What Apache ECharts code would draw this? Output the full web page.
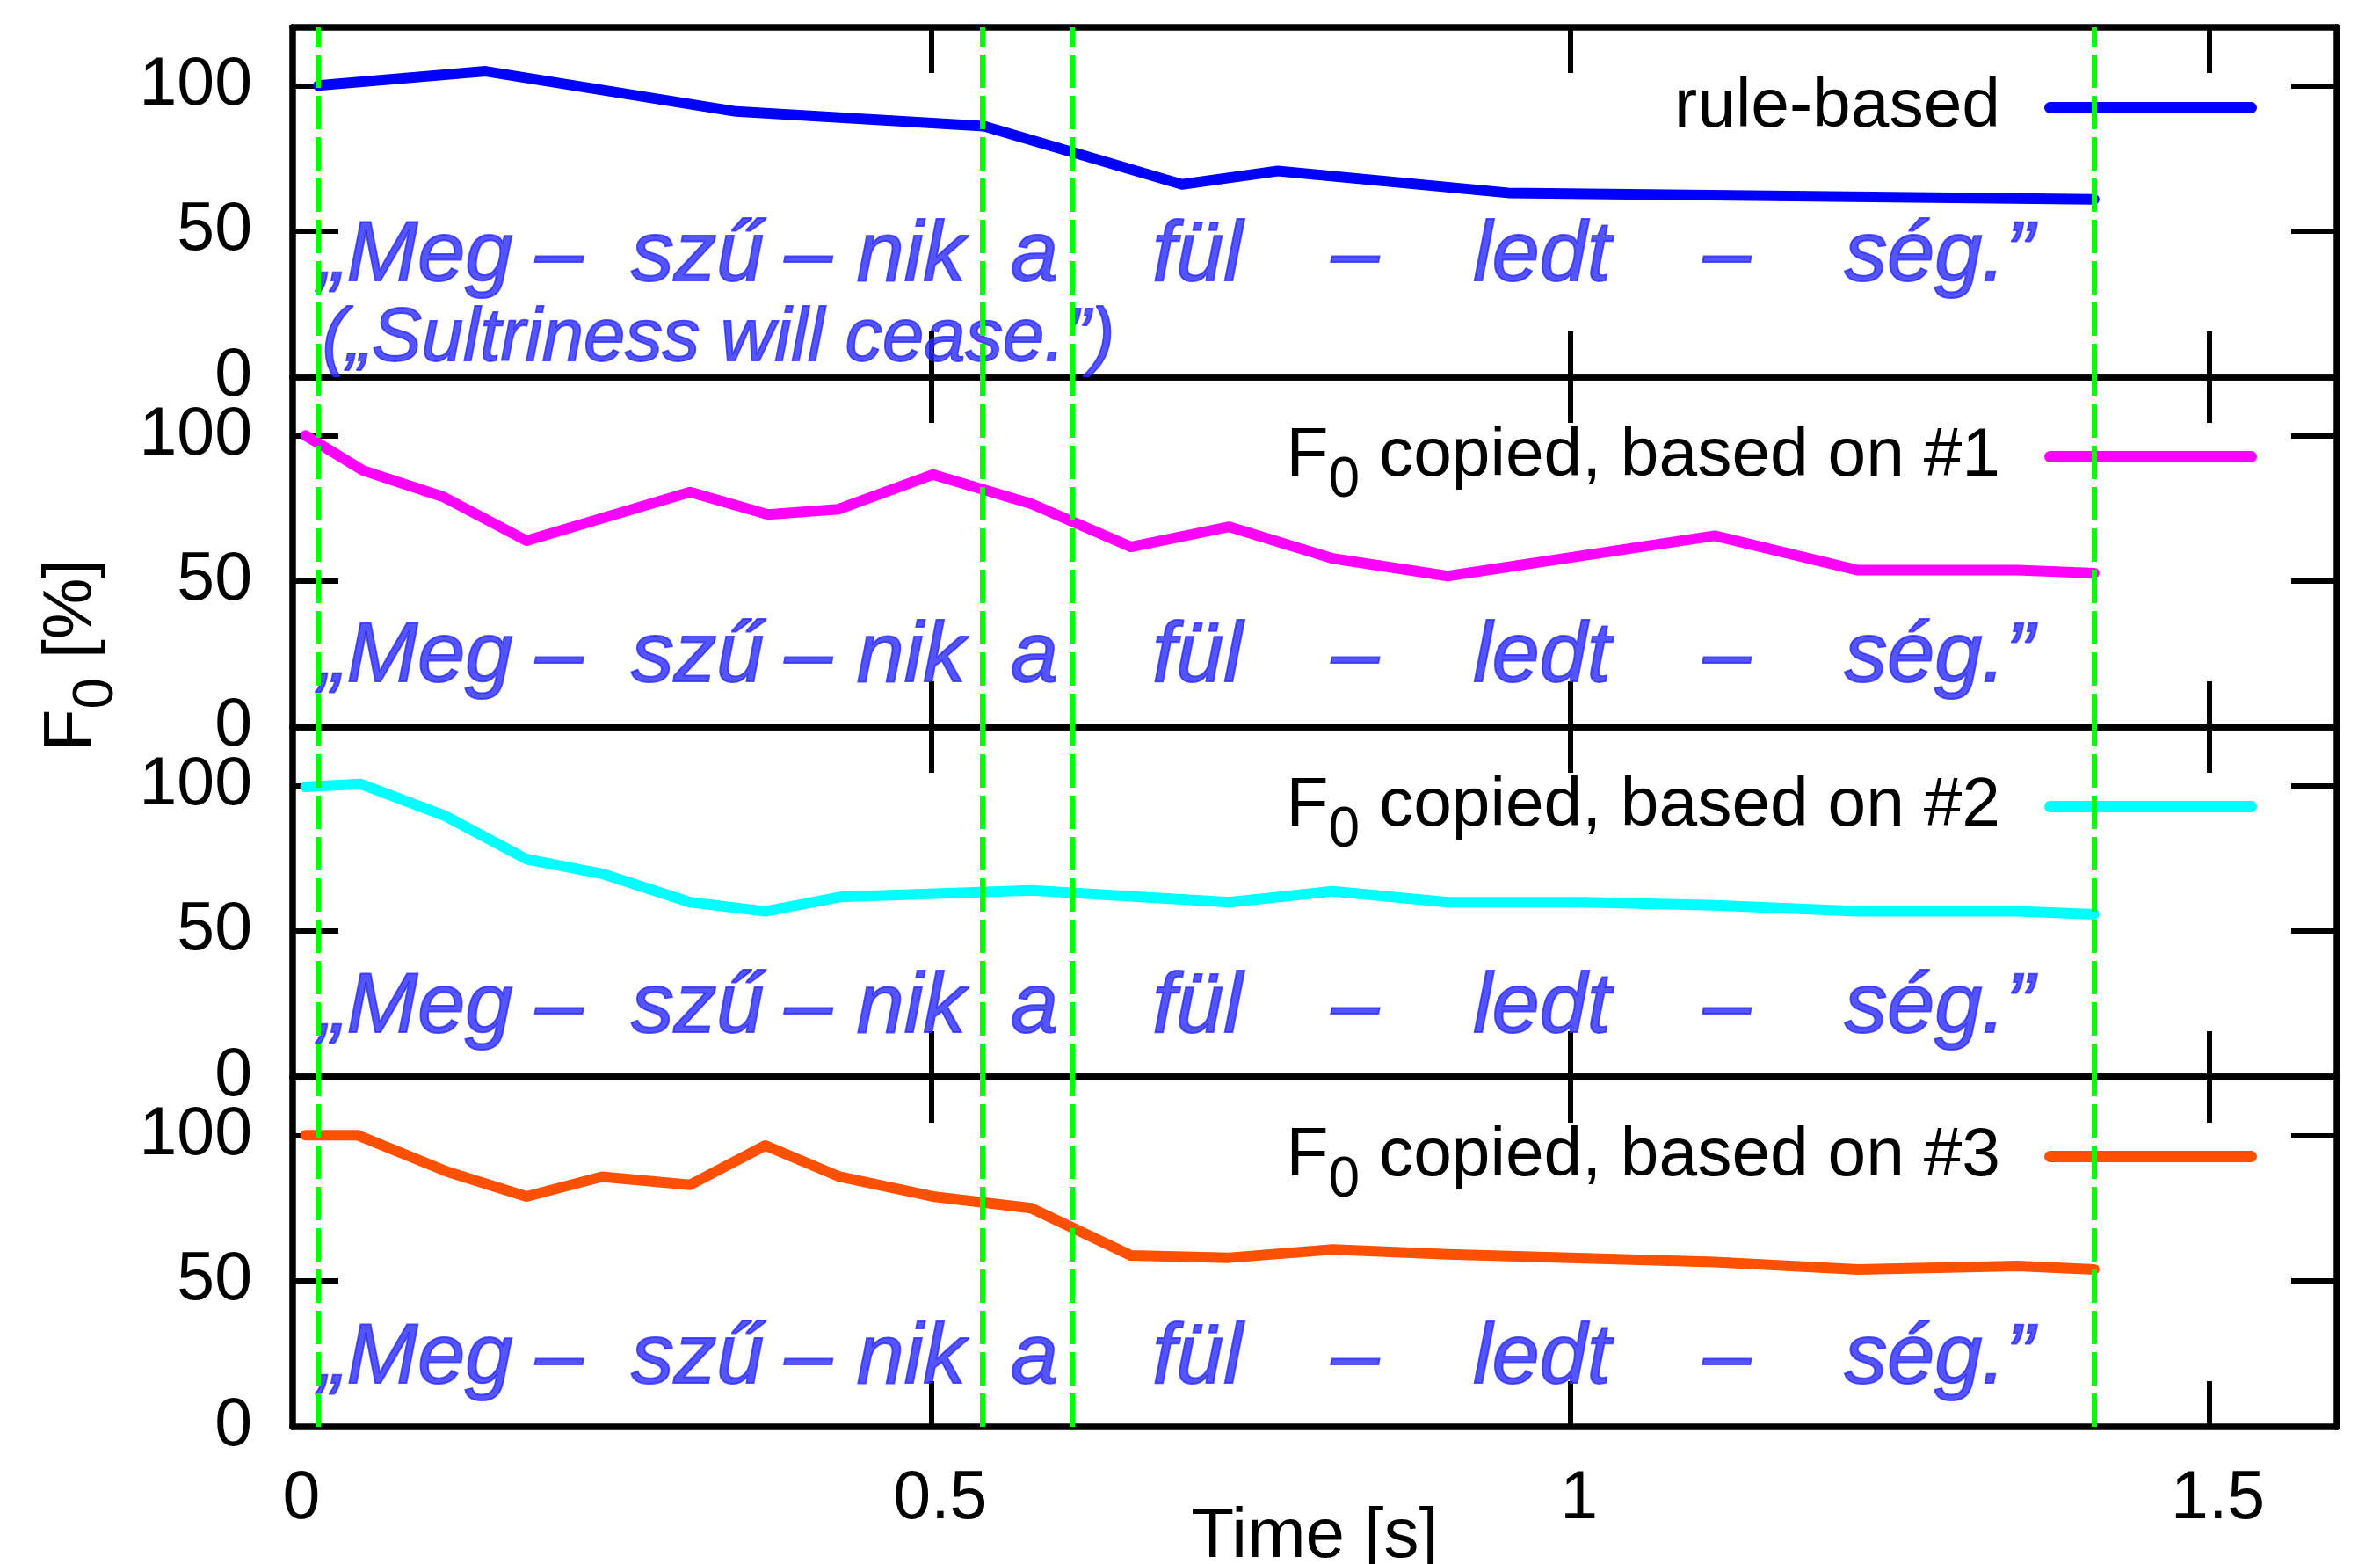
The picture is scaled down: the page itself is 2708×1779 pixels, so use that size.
<!DOCTYPE html>
<html><head><meta charset="utf-8">
<script src="https://cdn.jsdelivr.net/npm/echarts@6/dist/echarts.min.js"></script>
<style>html,body{margin:0;padding:0;background:#fff}#c{width:2708px;height:1779px}</style>
</head><body><div id="c"></div><script>
// ---- data ----
const ruleT = [0.02, 0.151, 0.347, 0.541, 0.696, 0.771, 0.951, 1.41];
const ruleV = [100, 104.9, 91.1, 86.1, 66.1, 70.7, 63.2, 61.0];
const cop1T = [0.01, 0.055, 0.118, 0.183, 0.311, 0.372, 0.427, 0.501, 0.578, 0.656, 0.733, 0.814, 0.904, 1.113, 1.225, 1.35, 1.41];
const cop1V = [100, 88.0, 78.9, 63.9, 80.6, 72.9, 74.7, 86.6, 76.6, 61.8, 68.7, 57.8, 51.8, 65.6, 53.8, 53.8, 52.8];
const cop2T = [0.01, 0.053, 0.119, 0.183, 0.242, 0.311, 0.370, 0.428, 0.578, 0.733, 0.814, 0.904, 1.01, 1.113, 1.225, 1.35, 1.41];
const cop2V = [99.5, 100.5, 89.6, 74.7, 69.7, 59.9, 56.8, 61.7, 64.0, 59.9, 63.7, 59.9, 59.9, 58.9, 56.8, 56.8, 55.8];
const cop3T = [0.01, 0.051, 0.121, 0.183, 0.242, 0.311, 0.370, 0.428, 0.501, 0.578, 0.656, 0.733, 0.814, 0.904, 1.113, 1.225, 1.35, 1.41];
const cop3V = [100, 100, 87.5, 79, 85.8, 83, 96.5, 85.8, 79, 75, 58.8, 58, 60.8, 59.2, 56.5, 54, 55.2, 54];
const seriesNames = ['rule-based', 'F0 copied, based on #1', 'F0 copied, based on #2', 'F0 copied, based on #3'];
const seriesColors = ['#0000ff', '#ff00ff', '#00ffff', '#ff5000'];
const guideT = [0.02, 0.541, 0.615, 1.41];
const syllables = ['\u201eMeg', '\u2013', 'sz\u0171', '\u2013', 'nik', 'a', 'f\u00fcl', '\u2013', 'ledt', '\u2013', 's\u00e9g.\u201d'];
const syllableT = [0.020, 0.19, 0.265, 0.385, 0.4415, 0.562, 0.673, 0.813, 0.924, 1.104, 1.2146];
const translation = '(\u201eSultriness will cease.\u201d)';
const translationT = 0.023;
const xTicks = [0, 0.5, 1, 1.5];
const yTicks = [0, 50, 100];

// ---- layout ----
const FONT = 'Liberation Sans';
const W = 2708, H = 1779;
const gridLeft = 333, gridWidth = 2326, panelH = 398;
const panelTop = [31, 429, 827, 1225];
const textY = [41.2, 23.8, 23.6, 23.2];
const translationY = 13.0;
const legendCenter = [122, 519, 917, 1315];
const ANN = '#2a2aff';

const tsv = [[ruleT, ruleV], [cop1T, cop1V], [cop2T, cop2V], [cop3T, cop3V]];

const chart = echarts.init(document.getElementById('c'), null, {renderer: 'canvas', width: W, height: H});

const grid = [], xAxis = [], yAxis = [], series = [], legend = [];
const axLine = {show: true, onZero: false, lineStyle: {color: '#000', width: 7.5}};
const axTick = {show: true, inside: true, length: 52, lineStyle: {color: '#000', width: 6}};
const rich = {
  m: {fontSize: 78.5, lineHeight: 120, fontFamily: FONT, color: '#000'},
  s: {fontSize: 64, lineHeight: 64, fontFamily: FONT, color: '#000', verticalAlign: 'bottom'}
};

for (let p = 0; p < 4; p++) {
  grid.push({left: gridLeft, width: gridWidth, top: panelTop[p], height: panelH, show: false, containLabel: false, outerBoundsMode: 'none'});
  const xBase = {gridIndex: p, type: 'value', min: 0, max: 1.6, interval: 0.5, splitLine: {show: false},
    axisLine: axLine, axisTick: axTick};
  xAxis.push(Object.assign({}, xBase, {position: 'bottom',
    axisLabel: {show: p === 3, margin: 44, fontSize: 77, fontFamily: FONT, color: '#000', showMaxLabel: false,
      padding: [0, 0, 0, 20]},
    name: p === 3 ? 'Time [s]' : '', nameLocation: 'middle', nameGap: 86, nameMoveOverlap: false,
    nameTextStyle: {fontSize: 80, fontFamily: FONT, color: '#000'}}));
  xAxis.push(Object.assign({}, xBase, {position: 'top', axisLabel: {show: false}}));
  const yBase = {gridIndex: p, type: 'value', min: 0, max: 120, interval: 50, splitLine: {show: false},
    axisLine: axLine, axisTick: axTick};
  yAxis.push(Object.assign({}, yBase, {position: 'left',
    axisLabel: {show: true, margin: 46, fontSize: 77, fontFamily: FONT, color: '#000', showMaxLabel: false}}));
  yAxis.push(Object.assign({}, yBase, {position: 'right', axisLabel: {show: false}}));

  const [tt, vv] = tsv[p];
  series.push({
    name: seriesNames[p], type: 'line', xAxisIndex: 2 * p, yAxisIndex: 2 * p,
    data: tt.map((t, i) => [t, vv[i]]),
    showSymbol: false, symbol: 'none', color: seriesColors[p],
    lineStyle: {color: seriesColors[p], width: 12, cap: 'round', join: 'round'},
    z: 3, silent: true,
    markLine: {silent: true, symbol: ['none', 'none'], label: {show: false}, z: 6,
      lineStyle: {color: '#00ff00', width: 6, type: [38, 9]},
      emphasis: {disabled: true},
      data: guideT.map(t => ({xAxis: t}))}
  });
  const words = syllables.map((s, k) => ({value: [syllableT[k], textY[p]], name: s}));
  series.push({
    type: 'scatter', xAxisIndex: 2 * p, yAxisIndex: 2 * p, symbol: 'circle', symbolSize: 0, silent: true, z: 4,
    data: words,
    label: {show: true, position: 'right', distance: 0, formatter: '{b}', color: ANN,
      textBorderColor: ANN, textBorderWidth: 2,
      fontSize: 97, fontStyle: 'italic', fontFamily: FONT}
  });
  if (p === 0) {
    series.push({
      type: 'scatter', xAxisIndex: 0, yAxisIndex: 0, symbol: 'circle', symbolSize: 0, silent: true, z: 4,
      data: [{value: [translationT, translationY], name: translation}],
      label: {show: true, position: 'right', distance: 0, formatter: '{b}', color: ANN,
        textBorderColor: ANN, textBorderWidth: 1.8,
        fontSize: 85, fontStyle: 'italic', fontFamily: FONT}
    });
  }
  const hasSub = seriesNames[p].startsWith('F0');
  legend.push({
    data: [seriesNames[p]], right: 140, padding: 0, selectedMode: false,
    top: legendCenter[p] - 39,
    orient: 'horizontal', align: 'right', itemWidth: 242, itemHeight: 13,
    icon: 'path://M6.5,0H235.5A6.5,6.5 0 0 1 235.5,13H6.5A6.5,6.5 0 0 1 6.5,0Z',
    formatter: n => n.startsWith('F0') ? '{m|F}{s|0}{m| ' + n.slice(3) + '}' : n,
    textStyle: hasSub
      ? {fontSize: 78.5, fontFamily: FONT, color: '#000', padding: [0, 45, 0, 0], rich: rich}
      : {fontSize: 78.5, lineHeight: 78, fontFamily: FONT, color: '#000', padding: [0, 45, 0, 0]}
  });
}

chart.setOption({
  animation: false,
  backgroundColor: '#fff',
  grid, xAxis, yAxis, series, legend,
  graphic: [{
    type: 'text', x: 91, y: 745, rotation: Math.PI / 2, silent: true,
    style: {text: '{m|F}{s|0}{m| [%]}', rich: rich, align: 'center', verticalAlign: 'middle',
      padding: [0, 0, 17, 0], fill: '#000', fontFamily: FONT, fontSize: 78.5}
  }]
});
</script></body></html>
